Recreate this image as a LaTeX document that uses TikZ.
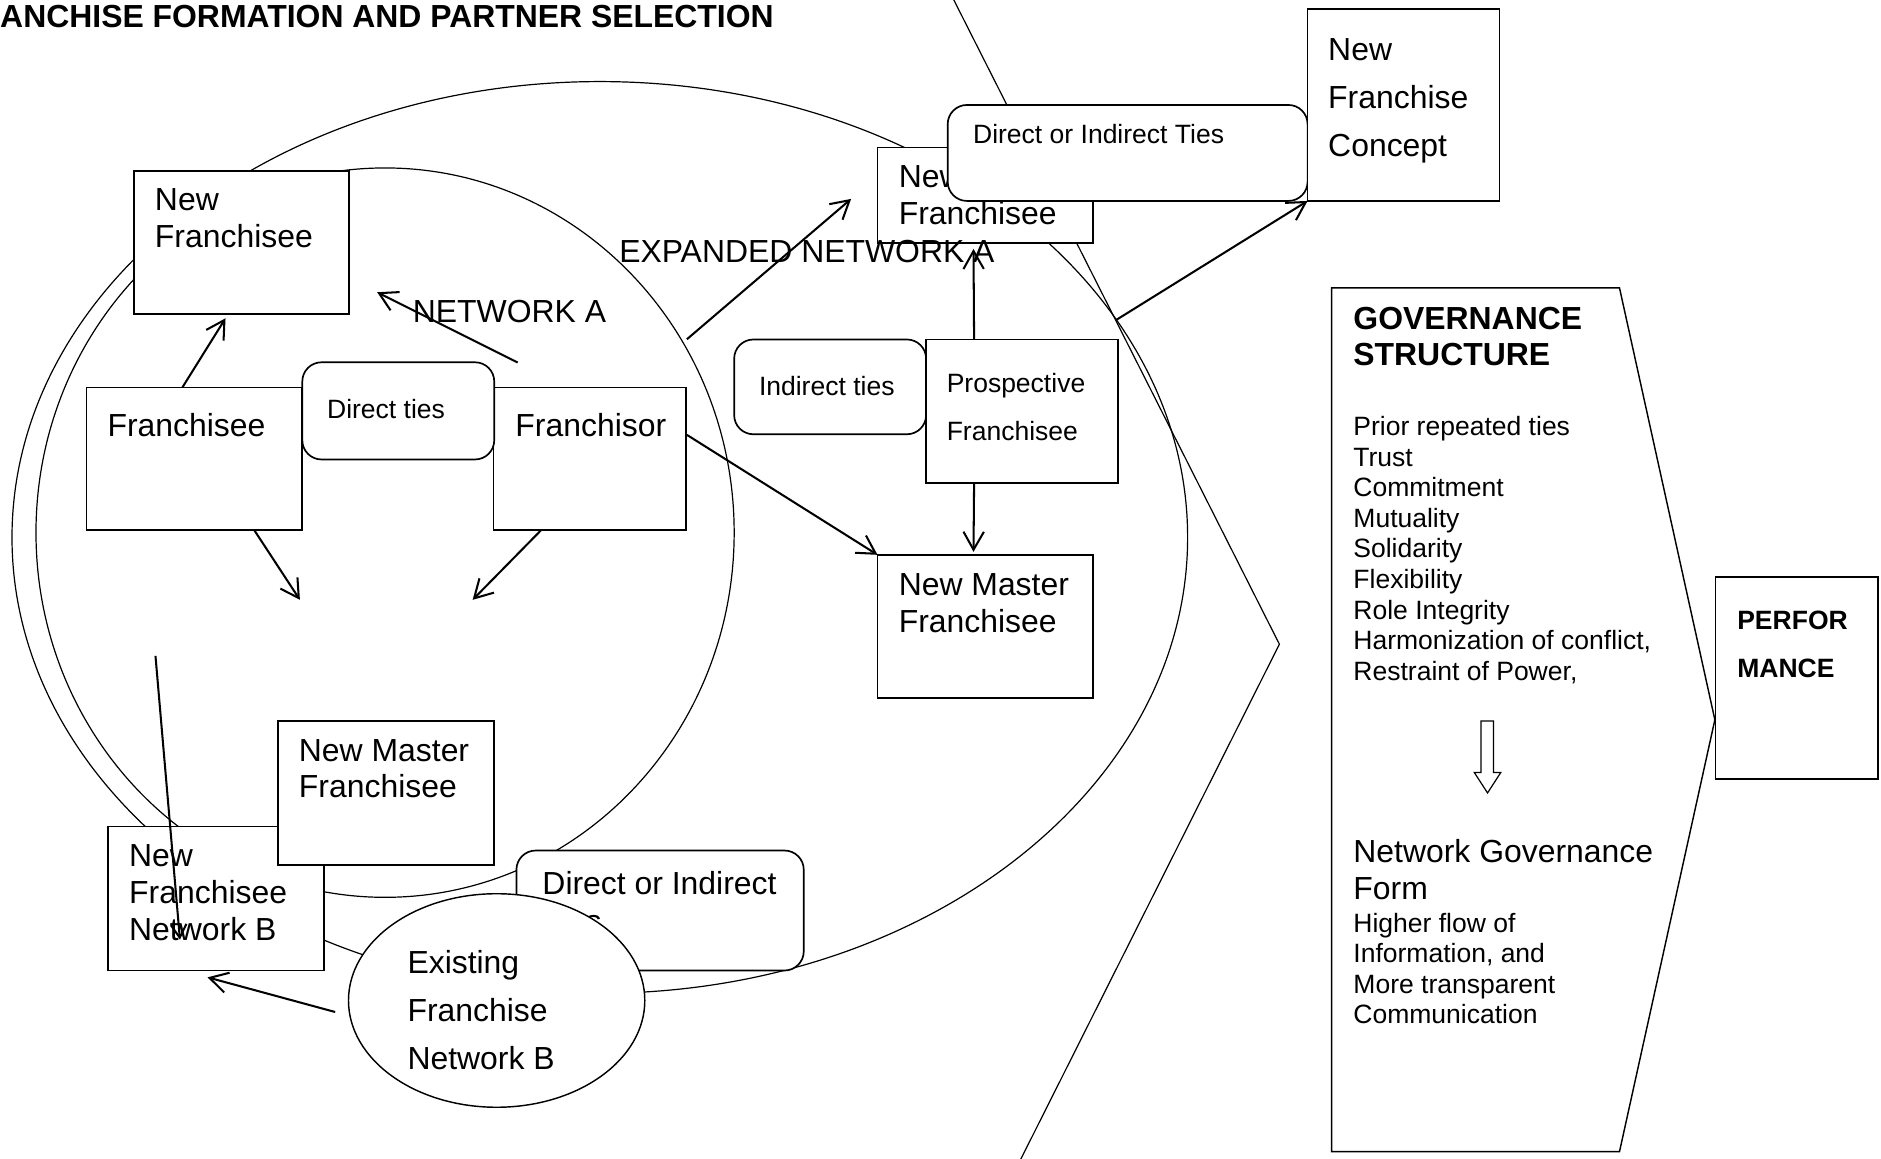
\documentclass[tikz,border=0pt]{standalone}
\usepackage{fontspec}
\setmainfont{Liberation Sans}
\usetikzlibrary{arrows.meta,shapes.geometric,calc}

\newcommand\bodyfont{\fontsize{26.6}{31}\selectfont}
\newcommand\smallfont{\fontsize{22.1}{25.5}\selectfont}

% one text line per node, baselines spaced evenly
\newcommand\stacklines[6][]{%
  \foreach \txtline [count=\idx from 0] in {#6}
    {\node[lbl,#1] (#2-\idx) at ({#3},{#4+\idx*#5}) {\txtline};}}

\begin{document}
\begin{tikzpicture}[x=1pt,y=-1pt,
  box/.style={draw, line width=1.4pt, fill=white, inner sep=0pt, outer sep=0pt, anchor=north west},
  rbox/.style={box, rounded corners=16pt},
  lbl/.style={anchor=base west, inner sep=0pt, font=\bodyfont},
  sm/.style={font=\smallfont},
  arr/.style={line width=1.7pt, -{Straight Barb[length=15pt,width=17pt]}},
  thinline/.style={line width=1pt}]

\useasboundingbox (0,0) rectangle (1568,966);
\fill[white] (0,0) rectangle (1568,966);
\clip (0,0) rectangle (1568,966);

% title
\node[lbl, font=\bodyfont\bfseries] (title) at (0,23) {ANCHISE FORMATION AND PARTNER SELECTION};

% expanded network A and network A
\draw[thinline] (500,448) ellipse [x radius=490, y radius=380];
\draw[thinline] (321,444) ellipse [x radius=291, y radius=304];

% large chevron outline
\draw[thinline] (785,-20) -- (1066.5,537) -- (839,990);

% boxes of network A
\node[box, minimum width=179.5pt, minimum height=119.5pt] (nf1) at (111.5,142.5) {};
\stacklines{nf1t}{129}{175.5}{30.5}{New,Franchisee}

\node[box, minimum width=180pt, minimum height=119pt] (fe) at (72,323) {};
\stacklines{fet}{89.5}{364}{0}{Franchisee}

\node[box, minimum width=160.5pt, minimum height=119pt] (fo) at (411.5,323) {};
\stacklines{fot}{429.5}{364}{0}{Franchisor}

\node[rbox, minimum width=160pt, minimum height=81pt] (dt) at (252,302) {};
\stacklines[sm]{dtt}{272.5}{349}{0}{Direct ties}

% expansion side
\node[box, minimum width=179.5pt, minimum height=79.5pt] (nf2) at (731.5,123) {};
\stacklines{nf2t}{749}{156}{31}{New,Franchisee}

\node[rbox, minimum width=300pt, minimum height=80pt] (dit) at (790,87.5) {};
\stacklines[sm]{ditt}{811}{120}{0}{Direct or Indirect Ties}

\node[box, minimum width=160pt, minimum height=160pt] (nfc) at (1090,7.5) {};
\stacklines{nfct}{1107}{50.5}{40}{New,Franchise,Concept}

\node[rbox, minimum width=160pt, minimum height=79pt] (it) at (612,283) {};
\stacklines[sm]{itt}{632.5}{330}{0}{Indirect ties}

\node[box, minimum width=160pt, minimum height=119.5pt] (pf) at (772,283) {};
\stacklines[sm]{pft}{789}{327}{40}{Prospective,Franchisee}

\node[box, minimum width=179.5pt, minimum height=119.5pt] (nmr) at (731.5,462.5) {};
\stacklines{nmrt}{749}{496}{31}{New Master,Franchisee}

% network B side
\node[box, minimum width=180pt, minimum height=120pt] (nfb) at (90,689) {};
\stacklines{nfbt}{107.5}{722}{31}{New,Franchisee,Network B}

\node[box, minimum width=180.5pt, minimum height=120pt] (nmb) at (231.5,601) {};
\stacklines{nmbt}{249}{634.5}{30.5}{New Master,Franchisee}

\node[rbox, minimum width=239.5pt, minimum height=100pt] (doi) at (430.5,709) {};
\stacklines{doit}{452}{746}{31}{Direct or Indirect,Ties}

\node[draw, ellipse, fill=white, line width=1.2pt, inner sep=0pt,
      minimum width=247pt, minimum height=178pt] (ex) at (414,834) {};
\stacklines{ext}{339.5}{811.5}{40}{Existing,Franchise,Network B}

% network names
\node[lbl] (neta) at (344,269) {NETWORK A};
\node[lbl] (expa) at (516,218.5) {EXPANDED NETWORK A};

% connectors
\coordinate (a2s) at (431.5,302.2);
\coordinate (a2e) at (314.4,243.6);
\coordinate (a3s) at (572.6,282.8);
\coordinate (a3e) at (709.5,165.8);
\coordinate (a5e) at (250,500);
\coordinate (a6e) at (394,500);
\coordinate (a9s) at (930.8,266.5);
\coordinate (a11s) at (129.6,546.7);
\coordinate (a11e) at (150,783.3);

\draw[arr] ($(fe.north west)+(80,0)$) -- ($(nf1.south west)+(76.5,3.3)$);
\draw[arr] (a2s) -- (a2e);
\draw[arr] (a3s) -- (a3e);
\draw[arr] ($(fo.north east)+(0.6,39.5)$) -- (nmr.north west);
\draw[arr] ($(fe.south west)+(140,0)$) -- (a5e);
\draw[arr] ($(fo.south west)+(39.5,0)$) -- (a6e);
\draw[arr] ($(pf.north west)+(40,0)$) -- ($(nf2.south west)+(80,5)$);
\draw[arr] ($(pf.south west)+(40,0)$) -- ($(nmr.north west)+(80,-2.5)$);
\draw[arr] (a9s) -- (nfc.south west);
\draw[arr] ($(ex.west)+(-10.5,9.6)$) -- ($(nfb.south west)+(83,5.7)$);
\draw[arr, -{Straight Barb[length=11pt,width=13pt]}] (a11s) -- (a11e);

% governance structure
\draw[line width=1.2pt] (1110,240) -- (1350,240) -- (1429.5,600) -- (1350,960) -- (1110,960) -- cycle;
\stacklines[font=\bodyfont\bfseries]{govt}{1128}{274.5}{30}{GOVERNANCE,STRUCTURE}
\stacklines[sm]{govl}{1128}{363}{25.5}{Prior repeated ties,Trust,Commitment,Mutuality,Solidarity,Flexibility,Role Integrity,{Harmonization of conflict,},{Restraint of Power,}}
\draw[line width=1pt] (1234.5,601) -- (1245,601) -- (1245,644) -- (1251,644) -- (1240,661) -- (1229,644) -- (1234.5,644) -- cycle;
\stacklines{ngf}{1128}{719}{30.5}{Network Governance,Form}
\stacklines[sm]{ngl}{1128}{777}{25.5}{Higher flow of,{Information, and},More transparent,Communication}

% performance
\node[box, minimum width=135.5pt, minimum height=168.5pt] (perf) at (1430,481) {};
\stacklines[font=\smallfont\bfseries]{perft}{1448}{525}{39.5}{PERFOR,MANCE}

\end{tikzpicture}
\end{document}
